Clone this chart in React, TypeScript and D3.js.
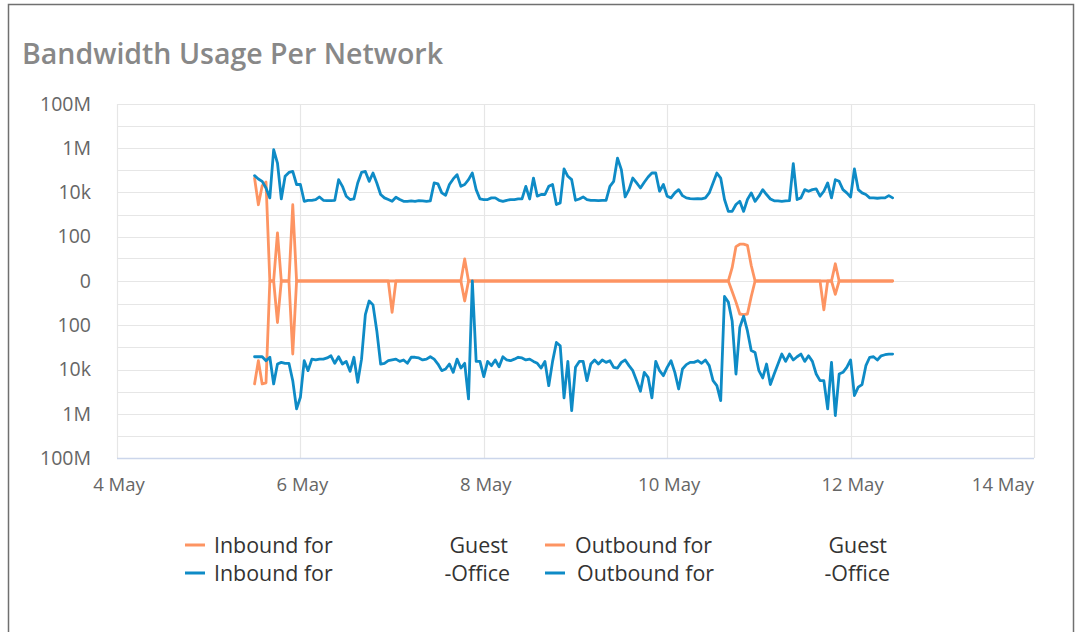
import React from 'react';
import * as d3 from 'd3';

// hourly samples, starting 5 May 12:00
const startTime = new Date(2021, 4, 5, 12);

const dayTicks = [4, 6, 8, 10, 12, 14];

const guestInbound = [
  45000, 2800, 20000, 30000, 0, 0, 150, 0, 0, 0, 2800, 0, 0, 0, 0, 0, 0, 0, 0, 0,
  0, 0, 0, 0, 0, 0, 0, 0, 0, 0, 0, 0, 0, 0, 0, 0, 0, 0, 0, 0,
  0, 0, 0, 0, 0, 0, 0, 0, 0, 0, 0, 0, 0, 0, 0, 9, 0, 0, 0, 0,
  0, 0, 0, 0, 0, 0, 0, 0, 0, 0, 0, 0, 0, 0, 0, 0, 0, 0, 0, 0,
  0, 0, 0, 0, 0, 0, 0, 0, 0, 0, 0, 0, 0, 0, 0, 0, 0, 0, 0, 0,
  0, 0, 0, 0, 0, 0, 0, 0, 0, 0, 0, 0, 0, 0, 0, 0, 0, 0, 0, 0,
  0, 0, 0, 0, 0, 3, 35, 45, 45, 40, 4, 0, 0, 0, 0, 0, 0, 0, 0, 0,
  0, 0, 0, 0, 0, 0, 0, 0, 0, 0, 0, 0, 5, 0, 0, 0, 0, 0, 0, 0,
  0, 0, 0, 0, 0, 0, 0, 0
];

const guestOutbound = [
  -45000, -4000, -45000, -40000, 0, 0, -74, 0, 0, 0, -2000, 0, 0, 0, 0, 0, 0, 0, 0, 0,
  0, 0, 0, 0, 0, 0, 0, 0, 0, 0, 0, 0, 0, 0, 0, 0, -25, 0, 0, 0,
  0, 0, 0, 0, 0, 0, 0, 0, 0, 0, 0, 0, 0, 0, 0, -7, 0, 0, 0, 0,
  0, 0, 0, 0, 0, 0, 0, 0, 0, 0, 0, 0, 0, 0, 0, 0, 0, 0, 0, 0,
  0, 0, 0, 0, 0, 0, 0, 0, 0, 0, 0, 0, 0, 0, 0, 0, 0, 0, 0, 0,
  0, 0, 0, 0, 0, 0, 0, 0, 0, 0, 0, 0, 0, 0, 0, 0, 0, 0, 0, 0,
  0, 0, 0, 0, 0, -2, -8, -30, -32, -30, -4, 0, 0, 0, 0, 0, 0, 0, 0, 0,
  0, 0, 0, 0, 0, 0, 0, 0, 0, -19, 0, 0, -3, 0, 0, 0, 0, 0, 0, 0,
  0, 0, 0, 0, 0, 0, 0, 0
];

const officeInbound = [
  58000, 41000, 32000, 16000, 5700, 855000, 215000, 5100, 54000, 81000,
  90000, 23000, 23000, 4000, 4450, 4450, 4800, 6300, 4450, 4300,
  4300, 4450, 38000, 19000, 6800, 4800, 5100, 27000, 81000, 90000,
  32000, 76000, 27000, 8100, 5700, 4800, 4000, 6100, 4800, 4000,
  4000, 4200, 4000, 4300, 4200, 4000, 4200, 27000, 24500, 9600,
  7500, 23000, 41000, 64000, 19000, 23000, 38000, 76000, 13500, 5100,
  4800, 4800, 5700, 5700, 4450, 4000, 4450, 4800, 4800, 5100,
  5100, 19000, 5100, 45000, 6800, 8100, 8100, 19000, 23000, 2850,
  3400, 116000, 54000, 38000, 4450, 5100, 6300, 4800, 4450, 4450,
  4300, 4450, 4450, 19000, 32000, 360000, 108000, 6300, 13500, 45000,
  27000, 16000, 29000, 50000, 76000, 76000, 11400, 23000, 6800, 5700,
  9600, 13500, 7200, 5700, 5300, 5100, 5300, 5100, 5700, 9600,
  27000, 76000, 45000, 4800, 1400, 1400, 2850, 4000, 1400, 4800,
  9600, 4000, 6800, 13500, 8100, 5100, 4200, 4200, 4000, 4200,
  4300, 200000, 4800, 5700, 13500, 11400, 13500, 14500, 6800, 11400,
  27000, 5700, 38000, 32000, 13500, 9600, 6300, 116000, 13500, 9600,
  8100, 5700, 5700, 5500, 5700, 5700, 7200, 5700
];

const officeOutbound = [
  -2650, -2650, -2650, -4000, -2800, -45000, -5650, -4750, -5250, -5250,
  -32000, -600000, -180000, -4000, -11300, -3400, -3700, -3400, -3400, -3000,
  -2400, -5250, -2650, -5650, -4300, -12100, -2800, -38000, -3400, -32,
  -7, -11, -180, -5650, -5250, -4000, -3700, -3400, -4300, -3700,
  -5250, -2800, -2800, -3000, -3700, -3400, -2650, -3400, -5650, -11300,
  -9500, -5650, -13400, -3400, -8600, -5250, -214000, 0, -4300, -4300,
  -21000, -4300, -6700, -3700, -7500, -2650, -3700, -4000, -3400, -2800,
  -3000, -3700, -3400, -4300, -5250, -8600, -4300, -54000, -4300, -600,
  -850, -192000, -4300, -720000, -8000, -4300, -4300, -32000, -5650, -3700,
  -5650, -3700, -4750, -4000, -8000, -8600, -4750, -3700, -6700, -11300,
  -32000, -96000, -13400, -22500, -192000, -4300, -11300, -19000, -8000, -4000,
  -13400, -76000, -9500, -6000, -4750, -4750, -4000, -5250, -3700, -6700,
  -32000, -54000, -255000, -4, -8, -63, -16000, -126, -38, -180,
  -1400, -1700, -11300, -24000, -5650, -48000, -16000, -5650, -2000, -4300,
  -2000, -3700, -2650, -2000, -4300, -2400, -4300, -16000, -32000, -32000,
  -600000, -4750, -1200000, -16000, -13400, -8000, -3700, -150000, -63000, -48000,
  -6700, -2800, -2650, -3700, -2400, -2150, -2000, -2000
];

const labelTicks = [-1e8, -1e6, -1e4, -100, 0, 100, 1e4, 1e6, 1e8];
const gridTicks = [-1e8, -1e7, -1e6, -1e5, -1e4, -1e3, -100, -10, 0, 10, 100, 1e3, 1e4, 1e5, 1e6, 1e7, 1e8];

const orange = '#fd9462';
const blue = '#0e8bc6';

const series = [
  { label: 'Inbound for', tail: 'Guest', color: orange, values: guestInbound },
  { label: 'Outbound for', tail: 'Guest', color: orange, values: guestOutbound },
  { label: 'Inbound for', tail: '-Office', color: blue, values: officeInbound },
  { label: 'Outbound for', tail: '-Office', color: blue, values: officeOutbound },
];

export default function App() {
  const left = 117, right = 1034, top = 104, bottom = 458;

  const x = d3.scaleTime()
    .domain([new Date(2021, 4, 4), new Date(2021, 4, 14)])
    .range([left, right]);

  const y = d3.scaleSymlog()
    .constant(1)
    .domain([-1e8, 1e8])
    .range([bottom, top]);

  const xTicks = dayTicks.map(d => new Date(2021, 4, d));
  const fmtX = d3.timeFormat('%-d %b');
  const fmtY = d3.format('~s');

  const line = d3.line<number>()
    .x((d, i) => x(d3.timeHour.offset(startTime, i)))
    .y(d => y(d));

  const legendPos = [
    { sx: 185, tx: 214, ex: 508, cy: 545 },
    { sx: 545, tx: 575, ex: 887, cy: 545 },
    { sx: 185, tx: 214, ex: 510, cy: 573 },
    { sx: 545, tx: 577, ex: 890, cy: 573 },
  ];

  return (
    <svg width={1077} height={632}
      style={{ position: 'absolute', left: 0, top: 0, fontFamily: '"Open Sans", sans-serif' }}>
      <rect x={8.5} y={4.5} width={1065} height={660} fill="#fff" stroke="#707070" strokeWidth={1.5} />
      <text x={22} y={64} fontSize={28.5} fontWeight={600} fill="#888">Bandwidth Usage Per Network</text>

      {gridTicks.map(v => (
        <line key={'h' + v} x1={left} x2={right} y1={Math.round(y(v)) + 0.5} y2={Math.round(y(v)) + 0.5}
          stroke="#e6e6e6" strokeWidth={1.2} />
      ))}
      {xTicks.map(t => (
        <line key={'v' + t.getTime()} x1={Math.round(x(t)) + 0.5} x2={Math.round(x(t)) + 0.5} y1={top} y2={bottom}
          stroke="#e6e6e6" strokeWidth={1.2} />
      ))}
      <line x1={left} x2={right} y1={bottom + 0.5} y2={bottom + 0.5} stroke="#ccd6eb" strokeWidth={1.5} />

      {labelTicks.map(v => (
        <text key={'yl' + v} x={91} y={y(v)} dy="0.35em" textAnchor="end" fontSize={19.5} fill="#666">
          {fmtY(Math.abs(v))}
        </text>
      ))}
      {xTicks.map((t, i) => {
        const last = i === xTicks.length - 1;
        return (
          <text key={'xl' + t.getTime()} x={last ? right : x(t) + 2} y={491}
            textAnchor={last ? 'end' : 'middle'} fontSize={18.5} fill="#666">
            {fmtX(t)}
          </text>
        );
      })}

      {series.map((s, i) => (
        <path key={'s' + i} d={line(s.values) || ''} fill="none" stroke={s.color} strokeWidth={2.8}
          strokeLinejoin="round" strokeLinecap="round" />
      ))}

      {series.map((s, i) => {
        const p = legendPos[i];
        return (
          <g key={'lg' + i}>
            <line x1={p.sx} x2={p.sx + 20} y1={p.cy} y2={p.cy} stroke={s.color} strokeWidth={3} />
            <text x={p.tx} y={p.cy + 7.5} fontSize={21.4} fill="#333">{s.label}</text>
            <text x={p.ex} y={p.cy + 7.5} fontSize={21.4} fill="#333" textAnchor="end">{s.tail}</text>
          </g>
        );
      })}
    </svg>
  );
}
